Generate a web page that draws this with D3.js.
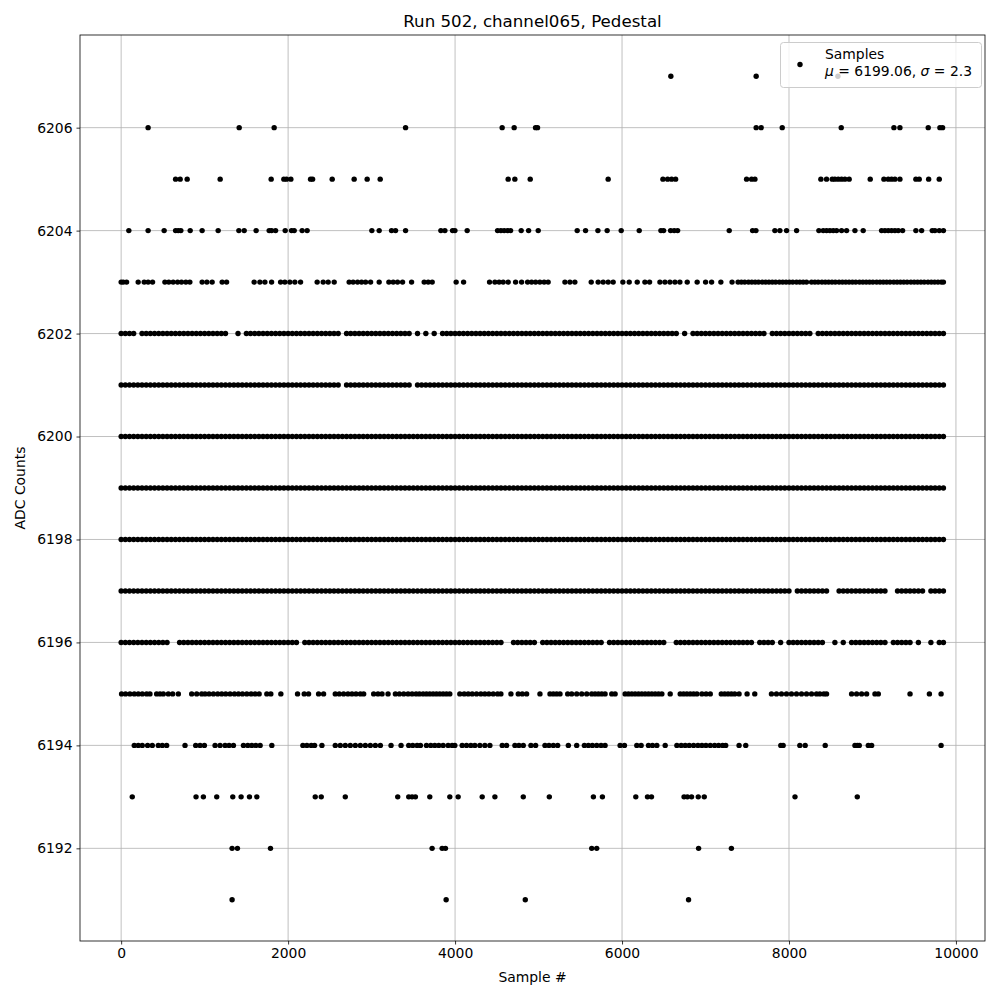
<!DOCTYPE html>
<html><head><meta charset="utf-8">
<script src="https://cdn.jsdelivr.net/npm/d3@7"></script>
<style>
body{margin:0;background:#fff}
text{font-family:"DejaVu Sans",sans-serif;fill:#000}
</style>
</head><body>
<svg id="chart" width="1000" height="1000"></svg>
<script>
// ---------- text ----------
const titleText = "Run 502, channel065, Pedestal";
const xLabelText = "Sample #";
const yLabelText = "ADC Counts";
const legendLabel = "Samples";
const legendMu = "6199.06";
const legendSigma = "2.3";

// ---------- ticks ----------
const xTickValues = [0, 2000, 4000, 6000, 8000, 10000];
const yTickValues = [6192, 6194, 6196, 6198, 6200, 6202, 6204, 6206];

// ---------- sparse levels: sample numbers ----------
const adc6207 = [6585, 7607, 8586];
const adc6206 = [323, 1414, 1833, 3407, 4564, 4708, 4964, 4988, 7607, 7667, 7919, 8626, 9257, 9329, 9668, 9808, 9840];
const adc6205 = [652, 707, 791, 1186, 1797, 1949, 1981, 2033, 2269, 2293, 2528, 2791, 2947, 3103, 4636, 4716, 4900, 5834, 6490, 6546, 6594, 6642, 7492, 7552, 7592, 8382, 8450, 8518, 8550, 8590, 8630, 8670, 8721, 8973, 9137, 9189, 9229, 9269, 9329, 9520, 9560, 9673, 9800];
const adc6204 = [92, 323, 515, 652, 683, 715, 827, 970, 1162, 1410, 1474, 1617, 1773, 1802, 1850, 1965, 2041, 2073, 2168, 2228, 3003, 3091, 3239, 3287, 3407, 3830, 3878, 3970, 3998, 4145, 4509, 4549, 4588, 4629, 4665, 4792, 4881, 4996, 5463, 5563, 5711, 5822, 5990, 6206, 6466, 6498, 6582, 6625, 6666, 7284, 7564, 7604, 7831, 7891, 7971, 8091, 8358, 8410, 8450, 8490, 8530, 8570, 8630, 8690, 8790, 8889, 9109, 9149, 9189, 9229, 9269, 9309, 9361, 9520, 9589, 9716, 9748, 9800, 9850];
const adc6203 = [0, 25, 65, 204, 276, 323, 376, 524, 571, 623, 676, 723, 775, 823, 970, 1027, 1090, 1210, 1263, 1593, 1662, 1722, 1802, 1910, 1961, 2021, 2081, 2149, 2348, 2420, 2480, 2552, 2731, 2779, 2832, 2880, 2928, 2988, 3091, 3207, 3259, 3311, 3371, 3479, 3630, 3678, 3726, 4013, 4102, 4413, 4477, 4528, 4576, 4636, 4725, 4797, 4869, 4917, 4965, 5016, 5067, 5115, 5316, 5376, 5435, 5631, 5714, 5774, 5834, 5894, 6010, 6086, 6182, 6274, 6330, 6454, 6514, 6574, 6634, 6693, 6781, 6900, 7001, 7073, 7184, 7318, 7390, 7430, 7470, 7515, 7555, 7595, 7635, 7680, 7720, 7760, 7800, 7840, 7885, 7925, 7965, 8005, 8045, 8090, 8130, 8170, 8210, 8270, 8310, 8350, 8395, 8435, 8475, 8515, 8555, 8600, 8640, 8680, 8720, 8760, 8800, 8845, 8885, 8925, 8965, 9005, 9050, 9090, 9130, 9170, 9210, 9255, 9295, 9335, 9375, 9415, 9460, 9500, 9540, 9580, 9620, 9665, 9705, 9745, 9785, 9825, 9850];
const adc6195 = [5, 53, 105, 157, 205, 253, 305, 345, 425, 465, 505, 565, 617, 685, 845, 905, 965, 1005, 1053, 1105, 1157, 1205, 1253, 1305, 1357, 1405, 1453, 1505, 1557, 1605, 1653, 1745, 1793, 1913, 2113, 2193, 2245, 2365, 2425, 2565, 2613, 2665, 2717, 2765, 2813, 2865, 2905, 3025, 3077, 3125, 3197, 3285, 3333, 3385, 3437, 3485, 3533, 3573, 3617, 3657, 3697, 3737, 3777, 3817, 3857, 3897, 3937, 4057, 4109, 4157, 4205, 4257, 4309, 4357, 4405, 4457, 4509, 4549, 4669, 4757, 4805, 4857, 5017, 5137, 5177, 5217, 5257, 5349, 5397, 5457, 5517, 5577, 5637, 5677, 5717, 5757, 5797, 5877, 5917, 6037, 6077, 6117, 6157, 6197, 6237, 6277, 6317, 6357, 6397, 6437, 6477, 6577, 6697, 6737, 6777, 6817, 6857, 6897, 6957, 7007, 7057, 7189, 7230, 7270, 7310, 7350, 7402, 7498, 7590, 7790, 7850, 7910, 7970, 8030, 8090, 8150, 8210, 8270, 8330, 8370, 8418, 8450, 8750, 8810, 8870, 8930, 9030, 9070, 9450, 9682, 9822];
const adc6194 = [157, 205, 253, 317, 373, 445, 493, 545, 765, 893, 945, 997, 1125, 1185, 1245, 1293, 1345, 1465, 1517, 1565, 1613, 1665, 1805, 2177, 2225, 2277, 2317, 2405, 2565, 2625, 2685, 2745, 2805, 2865, 2925, 2985, 3045, 3105, 3233, 3353, 3445, 3493, 3545, 3585, 3657, 3709, 3757, 3805, 3857, 3917, 3965, 3997, 4085, 4137, 4189, 4237, 4297, 4357, 4417, 4565, 4617, 4717, 4765, 4817, 4909, 4965, 5077, 5125, 5177, 5229, 5357, 5457, 5549, 5597, 5645, 5697, 5749, 5797, 5977, 6029, 6177, 6229, 6317, 6365, 6417, 6517, 6657, 6709, 6757, 6805, 6857, 6909, 6957, 7005, 7057, 7109, 7157, 7205, 7242, 7402, 7482, 7902, 7930, 8130, 8194, 8434, 8790, 8818, 8842, 8950, 8990, 9822];
const adc6193 = [133, 897, 985, 1145, 1337, 1437, 1537, 1625, 2325, 2397, 2685, 3313, 3445, 3485, 3525, 3697, 3937, 4037, 4325, 4477, 4817, 5129, 5657, 5765, 6165, 6305, 6353, 6743, 6783, 6833, 6913, 6985, 8072, 8818];
const adc6192 = [1329, 1393, 1789, 3725, 3845, 3885, 5637, 5697, 6917, 7310];
const adc6191 = [1329, 3893, 4841, 6797];

// ---------- dense levels: occupancy per 50-sample bin (bin i = sample i*50) ----------
const binSamples = 50;
const occ6202 = "1111011111 1111111111 1111110010 1111111111 1111111111 1110111111 1111111111 0101010111 1111111111 1111111111 1111111111 1111111111 1111111111 1111010111 1111111111 1111101111 1111110111 1111111111 1111111111 11111111";
const occ6201 = "1111111111 1111111111 1111111111 1111111111 1111111111 1110111111 1111111111 0111111111 1111111111 1111111111 1111111111 1111111111 1111111111 1111111111 1111111111 1111111111 1111111111 1111111111 1111111111 11111111";
const occ6200 = "1111111111 1111111111 1111111111 1111111111 1111111111 1111111111 1111111111 1111111111 1111111111 1111111111 1111111111 1111111111 1111111111 1111111111 1111111111 1111111111 1111111111 1111111111 1111111111 11111111";
const occ6199 = "1111111111 1111111111 1111111111 1111111111 1111111111 1111111111 1111111111 1111111111 1111111111 1111111111 1111111111 1111111111 1111111111 1111111111 1111111111 1111111111 1111111111 1111111111 1111111111 11111111";
const occ6198 = "1111111111 1111111111 1111111111 1111111111 1111111111 1111111111 1111111111 1111111111 1111111111 1111111111 1111111111 1111111111 1111111111 1111111111 1111111111 1111111111 1111111111 1111111111 1111111111 11111111";
const occ6197 = "1111111111 1111111111 1111111111 1111111111 1111111111 1111111111 1111111111 1111111111 1111111111 1111111111 1111111111 1111111111 1111111111 1111111111 1111111111 1111111111 1011111111 0011111111 1111001111 11101111";
const occ6196 = "1111111111 1100111111 1111111111 1111111111 1110111111 1111111111 1111111111 1111111111 1111111111 1100111111 0111111111 1111110111 1111111111 1001111111 1111111111 1101111010 1111111110 0101011111 1111011111 01001011";

// ---------- assemble points ----------
const sparseLevels = [
  [6207, adc6207], [6206, adc6206], [6205, adc6205], [6204, adc6204], [6203, adc6203],
  [6195, adc6195], [6194, adc6194], [6193, adc6193], [6192, adc6192], [6191, adc6191]
];
const denseLevels = [
  [6202, occ6202], [6201, occ6201], [6200, occ6200], [6199, occ6199],
  [6198, occ6198], [6197, occ6197], [6196, occ6196]
];
const points = [];
sparseLevels.forEach(([lvl, arr]) => arr.forEach(s => points.push({x: s, y: lvl})));
denseLevels.forEach(([lvl, str]) => {
  str.replace(/\s/g, "").split("").forEach((c, i) => { if (c === "1") points.push({x: i * binSamples, y: lvl}); });
});

// ---------- layout ----------
const svg = d3.select("#chart");
const L = 80, R = 985, T = 35, B = 941;
const x = d3.scaleLinear().domain([-493, 10348]).range([L, R]);
const y = d3.scaleLinear().domain([6190.2, 6207.8]).range([B, T]);

svg.append("rect").attr("width", 1000).attr("height", 1000).attr("fill", "#fff");

// grid
const grid = svg.append("g");
xTickValues.forEach(v => grid.append("line").attr("x1", x(v)).attr("x2", x(v)).attr("y1", T).attr("y2", B)
  .attr("stroke", "#b0b0b0").attr("stroke-width", 0.8));
yTickValues.forEach(v => grid.append("line").attr("x1", L).attr("x2", R).attr("y1", y(v)).attr("y2", y(v))
  .attr("stroke", "#b0b0b0").attr("stroke-width", 0.8));

// points
svg.append("defs").append("clipPath").attr("id", "clip").append("rect")
  .attr("x", L).attr("y", T).attr("width", R - L).attr("height", B - T);
svg.append("g").attr("clip-path", "url(#clip)").selectAll("circle").data(points).join("circle")
  .attr("cx", d => x(d.x)).attr("cy", d => y(d.y)).attr("r", 2.7).attr("fill", "#000");

// axes
const xAxis = d3.axisBottom(x).tickValues(xTickValues).tickSize(3.5).tickPadding(4).tickFormat(d3.format("d"));
const yAxis = d3.axisLeft(y).tickValues(yTickValues).tickSize(3.5).tickPadding(4).tickFormat(d3.format("d"));
const gx = svg.append("g").attr("transform", `translate(0,${B})`).call(xAxis);
const gy = svg.append("g").attr("transform", `translate(${L},0)`).call(yAxis);
[gx, gy].forEach(g => {
  g.select(".domain").remove();
  g.selectAll(".tick line").attr("stroke", "#000").attr("stroke-width", 0.8);
  g.selectAll(".tick text").attr("font-size", "13.9px").attr("font-family", "DejaVu Sans").attr("fill", "#000");
});
svg.append("rect").attr("x", L).attr("y", T).attr("width", R - L).attr("height", B - T)
  .attr("fill", "none").attr("stroke", "#000").attr("stroke-width", 0.8);

// labels
svg.append("text").attr("x", (L + R) / 2).attr("y", 27).attr("text-anchor", "middle")
  .attr("font-size", "16.67px").text(titleText);
svg.append("text").attr("x", (L + R) / 2).attr("y", 982).attr("text-anchor", "middle")
  .attr("font-size", "13.9px").text(xLabelText);
svg.append("text").attr("transform", `translate(25,${(T + B) / 2}) rotate(-90)`).attr("text-anchor", "middle")
  .attr("font-size", "13.9px").text(yLabelText);

// legend
const lg = svg.append("g");
lg.append("rect").attr("x", 780.5).attr("y", 42.5).attr("width", 201).attr("height", 45).attr("rx", 3)
  .attr("fill", "#fff").attr("fill-opacity", 0.8).attr("stroke", "#cccccc").attr("stroke-width", 1);
lg.append("circle").attr("cx", 800).attr("cy", 64.5).attr("r", 2.7).attr("fill", "#000");
lg.append("text").attr("x", 825).attr("y", 59).attr("font-size", "13.9px").text(legendLabel);
const t2 = lg.append("text").attr("x", 825).attr("y", 76).attr("font-size", "13.9px");
t2.append("tspan").attr("font-style", "italic").text("μ");
t2.append("tspan").text(" = " + legendMu + ", ");
t2.append("tspan").attr("font-style", "italic").text("σ");
t2.append("tspan").text(" = " + legendSigma);
</script>
</body></html>
